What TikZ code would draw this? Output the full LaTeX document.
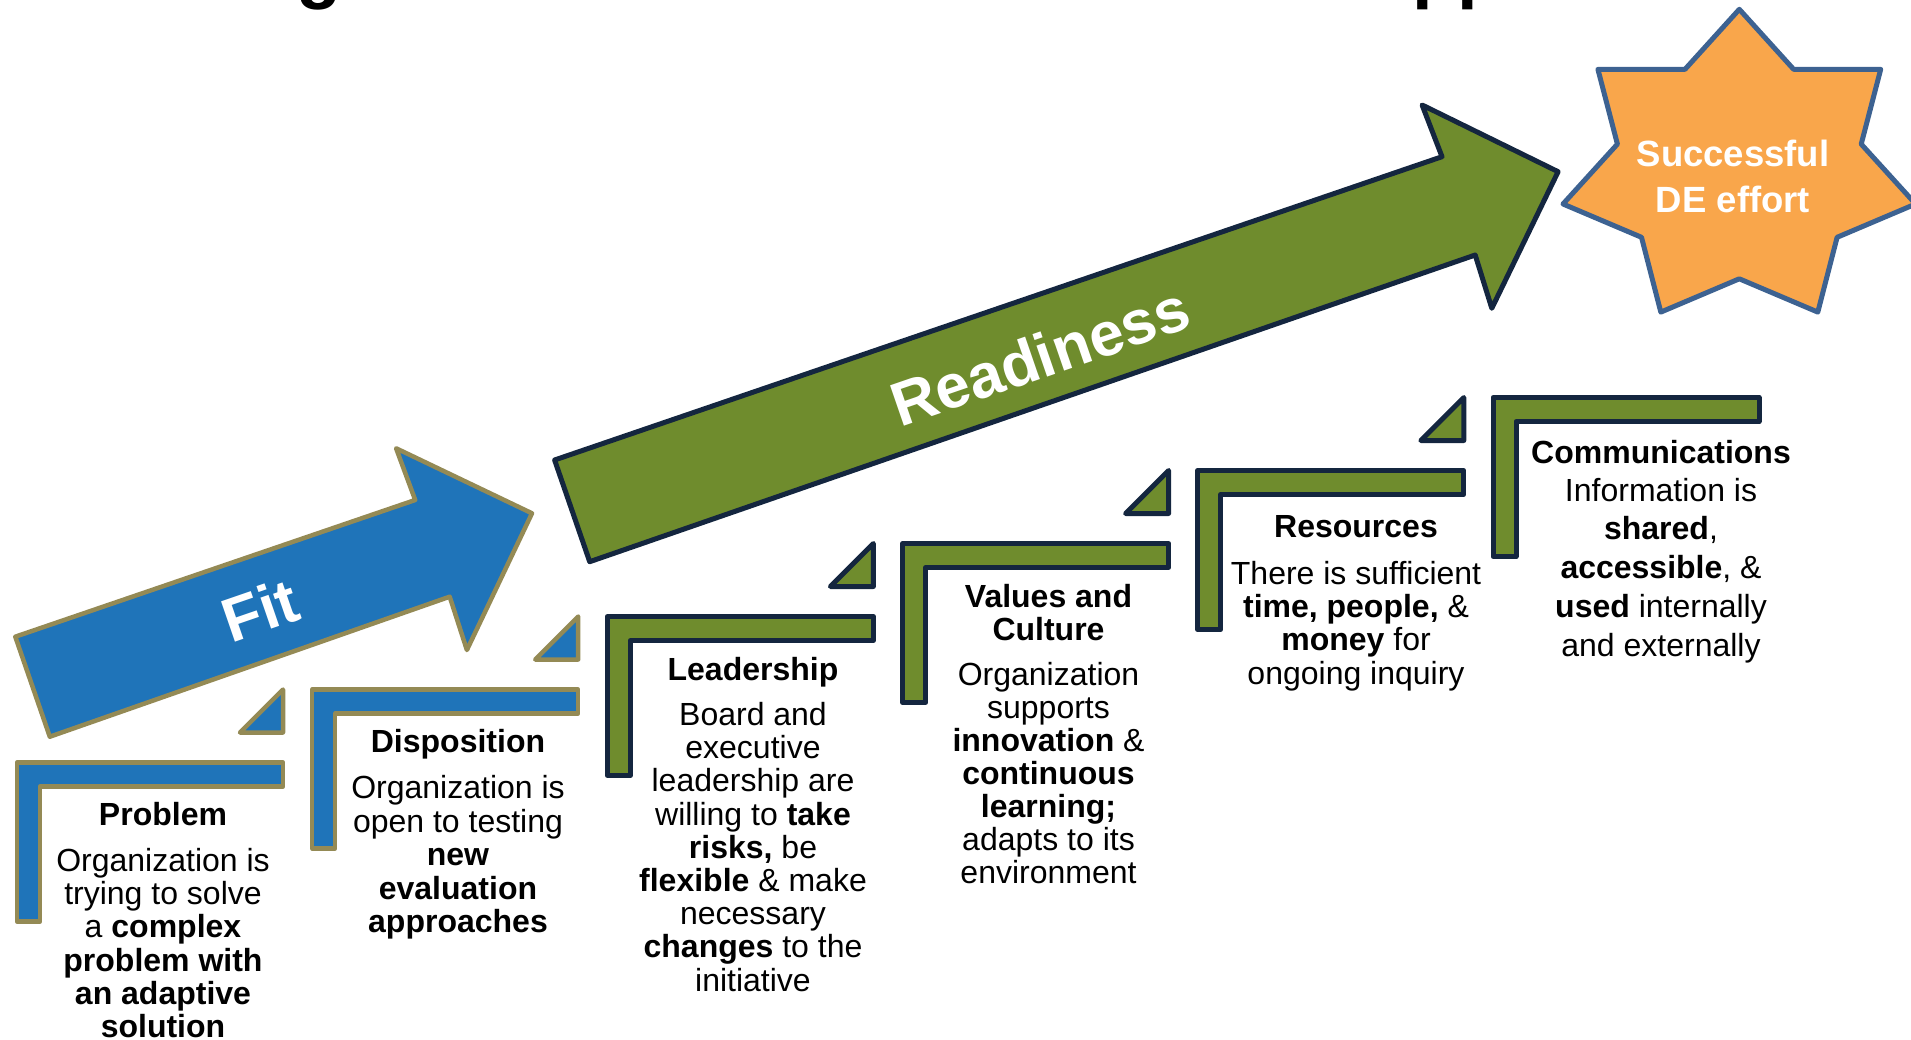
\documentclass[tikz,border=0pt]{standalone}
\usepackage{fontspec}
\setmainfont{Liberation Sans}
\definecolor{fitblue}{HTML}{1F74B9}
\definecolor{fitedge}{HTML}{948A55}
\definecolor{readygreen}{HTML}{6F8C2D}
\definecolor{readyedge}{HTML}{14263F}
\definecolor{starfill}{HTML}{F9A64B}
\definecolor{staredge}{HTML}{3D6291}
% fixed line pitch regardless of ascenders/descenders
\newcommand\tightlines{\lineskiplimit=-100pt\relax}
\begin{document}
\begin{tikzpicture}[x=1pt,y=-1pt,line join=round,
  fitshape/.style={fill=fitblue,draw=fitedge,line width=4.5pt},
  readyshape/.style={fill=readygreen,draw=readyedge,line width=5pt},
  blocktext/.style={anchor=north,inner sep=0pt,align=center,text=black,
    font={\fontsize{32}{#1}\selectfont\tightlines}},
  blocktext/.default=33.2,
  arrowlabel/.style={text=white,inner sep=0pt,rotate=19,
    font={\fontsize{62}{72}\selectfont\bfseries}},
  titlebits/.style={anchor=base west,inner sep=0pt,
    font={\fontsize{74}{80}\selectfont\bfseries}}
]
\useasboundingbox (0,0) rectangle (1911,1039);

% descenders of the heading line running off the top edge
\node[titlebits] (head-g) at (296,-6) {g};
\node[titlebits] (head-pp) at (1412,-6) {pp};

% L-shaped step frame and its corner triangle
\newcommand\stepframe[3]{%
  \draw[#1,shift={(#2,#3)}] (2.5,2.5) -- (268.5,2.5) -- (268.5,26.5)
     -- (25.5,26.5) -- (25.5,161.5) -- (2.5,161.5) -- cycle;}
\newcommand\steptri[3]{%
  \draw[#1,shift={(#2,#3)}] (268.5,-70.5) -- (268.5,-27.5) -- (225.5,-27.5) -- cycle;}

% Fit arrow
\draw[fitshape] (15.3,636.7) -- (49.8,736.7) -- (449.7,596.7) -- (466.9,650)
  -- (532,513.3) -- (396.1,448.3) -- (415.2,500) -- cycle;
\node[arrowlabel] (fit) at (260,610) {Fit};

% Readiness arrow
\draw[readyshape] (554.6,460) -- (589.7,561.7) -- (1475.2,255) -- (1491.8,308.3)
  -- (1558.1,171.7) -- (1422.1,105) -- (1442,156.7) -- cycle;
\node[arrowlabel] (readiness) at (1040,356) {Readiness};

% Goal star
\draw[fill=starfill,draw=staredge,line width=5pt]
  (1739.3,9.3) -- (1685.0,69.3) -- (1597.9,69.3) -- (1617.4,144.1)
  -- (1563.0,204.0) -- (1641.5,237.3) -- (1660.8,312.1) -- (1739.3,278.8)
  -- (1817.8,312.1) -- (1837.1,237.3) -- (1915.6,204.0) -- (1861.2,144.1)
  -- (1880.7,69.3) -- (1793.6,69.3) -- cycle;
\node[anchor=north,inner sep=0pt,align=center,text=white,
  font={\fontsize{36.5}{46}\selectfont\bfseries\tightlines}]
  (success) at (1733,137.5) {\rule{0pt}{0.8em}Successful\\DE effort};

% Steps
\stepframe{fitshape}{14.5}{760}
\steptri{fitshape}{14.5}{760}
\stepframe{fitshape}{309.7}{687}
\steptri{fitshape}{309.7}{687}
\stepframe{readyshape}{604.9}{614}
\steptri{readyshape}{604.9}{614}
\stepframe{readyshape}{900.1}{541}
\steptri{readyshape}{900.1}{541}
\stepframe{readyshape}{1195.3}{468}
\steptri{readyshape}{1195.3}{468}
\stepframe{readyshape}{1490.5}{395}

% Step texts
\node[blocktext=33.1] (problem) at (163,799.4)
  {\rule{0pt}{0.8em}\textbf{Problem}\\[13.4pt]Organization is\\trying to solve\\a \textbf{complex}\\
   \textbf{problem with}\\\textbf{an adaptive}\\\textbf{solution}};
\node[blocktext=33.5] (disposition) at (458,726.4)
  {\rule{0pt}{0.8em}\textbf{Disposition}\\[12.8pt]Organization is\\open to testing\\\textbf{new}\\
   \textbf{evaluation}\\\textbf{approaches}};
\node[blocktext=33.2] (leadership) at (753,654.4)
  {\rule{0pt}{0.8em}\textbf{Leadership}\\[12pt]Board and\\executive\\leadership are\\
   willing to \textbf{take}\\\textbf{risks,} be\\\textbf{flexible} \& make\\necessary\\
   \textbf{changes} to the\\initiative};
\node[blocktext=33] (values) at (1048.5,581.4)
  {\rule{0pt}{0.8em}\textbf{Values and}\\\textbf{Culture}\\[12pt]Organization\\supports\\
   \textbf{innovation} \&\\\textbf{continuous}\\\textbf{learning;}\\adapts to its\\environment};
\node[blocktext=33.4] (resources) at (1356,511.9)
  {\rule{0pt}{0.8em}\textbf{Resources}\\[12.9pt]There is sufficient\\\textbf{time, people,} \&\\
   \textbf{money} for\\ongoing inquiry};
\node[blocktext=38.7] (communications) at (1661,437.6)
  {\rule{0pt}{0.8em}\textbf{Communications}\\[-0.9pt]Information is\\\textbf{shared},\\
   \textbf{accessible}, \&\\\textbf{used} internally\\and externally};
\end{tikzpicture}
\end{document}
